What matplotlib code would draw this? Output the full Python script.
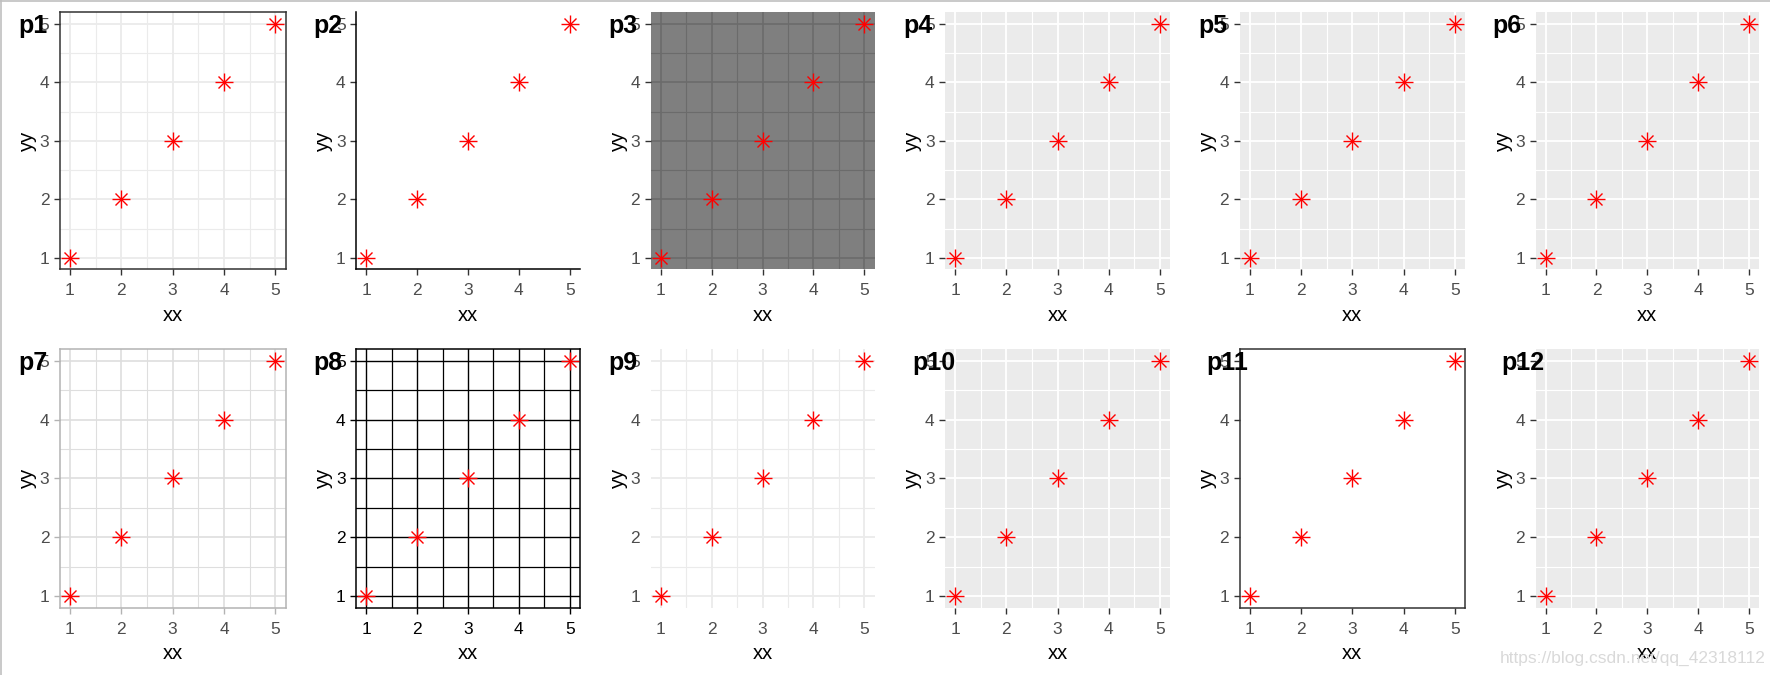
import matplotlib
matplotlib.use("Agg")
import matplotlib.pyplot as plt
from matplotlib.lines import Line2D

plt.rcParams['font.family'] = ['Liberation Sans', 'DejaVu Sans']

# ---------------- data ----------------
xx = [1, 2, 3, 4, 5]
yy = [1, 2, 3, 4, 5]
tick_values = [1, 2, 3, 4, 5]
minor_values = [1.5, 2.5, 3.5, 4.5]
panel_labels = ['p1', 'p2', 'p3', 'p4', 'p5', 'p6',
                'p7', 'p8', 'p9', 'p10', 'p11', 'p12']
panel_themes = ['bw', 'classic', 'dark', 'gray', 'gray', 'gray',
                'light', 'linedraw', 'minimal', 'gray', 'test', 'gray']
x_title = 'xx'
y_title = 'yy'
watermark = 'https://blog.csdn.net/qq_42318112'

# ---------------- theme styles ----------------
THEMES = {
    'bw':       dict(bg='white', grid='#ebebeb', gmaj=1.3, gmin=0.8, border='#333333', blw=1.1,
                     axlines=False, tick='#333333', tlab='#4d4d4d', ticks=True),
    'classic':  dict(bg='white', grid=None, gmaj=0, gmin=0, border=None, blw=0,
                     axlines=True, tick='#333333', tlab='#4d4d4d', ticks=True),
    'dark':     dict(bg='#7f7f7f', grid='#6b6b6b', gmaj=1.2, gmin=0.8, border=None, blw=0,
                     axlines=False, tick='#333333', tlab='#4d4d4d', ticks=True),
    'gray':     dict(bg='#ebebeb', grid='white', gmaj=1.3, gmin=0.8, border=None, blw=0,
                     axlines=False, tick='#333333', tlab='#4d4d4d', ticks=True),
    'light':    dict(bg='white', grid='#dedede', gmaj=1.2, gmin=0.8, border='#b3b3b3', blw=1.1,
                     axlines=False, tick='#b3b3b3', tlab='#4d4d4d', ticks=True),
    'linedraw': dict(bg='white', grid='black', gmaj=1.0, gmin=0.9, border='black', blw=1.1,
                     axlines=False, tick='black', tlab='black', ticks=True),
    'minimal':  dict(bg='white', grid='#ebebeb', gmaj=1.3, gmin=0.8, border=None, blw=0,
                     axlines=False, tick='#333333', tlab='#4d4d4d', ticks=False),
    'test':     dict(bg='white', grid=None, gmaj=0, gmin=0, border='#333333', blw=1.1,
                     axlines=False, tick='#333333', tlab='#4d4d4d', ticks=True),
}

# ---------------- layout (pixels) ----------------
W, H = 1770, 675
col_left = [59.7, 356, 650.5, 945, 1239.5, 1535.5]
col_right = [285.6, 580, 874.5, 1170, 1465, 1759]
row_top = [12.3, 349]
row_bottom = [269.5, 607.7]
label_x = [18, 313, 608, 903, 1198, 1492, 18, 313, 608, 912, 1206, 1501]
label_base = [32.5, 369.5]

fig = plt.figure(figsize=(W / 100, H / 100), dpi=100)
fig.patch.set_facecolor('white')

for i, (lab, th) in enumerate(zip(panel_labels, panel_themes)):
    r, c = divmod(i, 6)
    l, rr = col_left[c], col_right[c]
    t, b = row_top[r], row_bottom[r]
    ax = fig.add_axes([l / W, 1 - b / H, (rr - l) / W, (b - t) / H])
    s = THEMES[th]
    ax.set_facecolor(s['bg'])
    ax.set_xlim(0.8, 5.2)
    ax.set_ylim(0.8, 5.2)
    ax.set_xticks(tick_values)
    ax.set_yticks(tick_values)
    ax.set_xticks(minor_values, minor=True)
    ax.set_yticks(minor_values, minor=True)
    ax.set_axisbelow(True)
    if s['grid'] is not None:
        ax.grid(which='major', color=s['grid'], lw=s['gmaj'])
        ax.grid(which='minor', color=s['grid'], lw=s['gmin'])
    tick_col = s['tick'] if s['ticks'] else (0, 0, 0, 0)
    ax.tick_params(which='major', length=4.0, width=1.0, color=tick_col,
                   labelcolor=s['tlab'], labelsize=12.5)
    ax.tick_params(axis='x', which='major', pad=6)
    ax.tick_params(axis='y', which='major', pad=3.5)
    ax.tick_params(which='minor', length=0)
    for sp in ax.spines.values():
        sp.set_visible(False)
    if s['border'] is not None:
        for sp in ax.spines.values():
            sp.set_visible(True)
            sp.set_color(s['border'])
            sp.set_linewidth(s['blw'])
    if s['axlines']:
        for k in ('left', 'bottom'):
            ax.spines[k].set_visible(True)
            ax.spines[k].set_color('black')
            ax.spines[k].set_linewidth(1.1)
    ax.plot(xx, yy, ls='none', marker='+', ms=12.5, mew=1.0, color='red', zorder=3)
    ax.plot(xx, yy, ls='none', marker='x', ms=8.8, mew=1.0, color='red', zorder=3)
    ax.set_xlabel(x_title, fontsize=14.5, color='black', labelpad=5.5)
    ax.set_ylabel(y_title, fontsize=14.5, color='black', labelpad=2)
    fig.text(label_x[i] / W, 1 - label_base[r] / H, lab, fontsize=18,
             fontweight='bold', color='black', ha='left', va='baseline', zorder=10)

fig.text(1766 / W, 1 - 663 / H, watermark, fontsize=12.5, color='#d9d9d9',
         ha='right', va='baseline', zorder=10)

# thin outer frame (left / top)
fig.add_artist(Line2D([0.5 / W, 0.5 / W], [0, 1], color='#c0c0c0', lw=1.2, transform=fig.transFigure))
fig.add_artist(Line2D([0, 1], [1 - 0.5 / H, 1 - 0.5 / H], color='#c0c0c0', lw=1.2, transform=fig.transFigure))

fig.savefig('out.png', dpi=100)
